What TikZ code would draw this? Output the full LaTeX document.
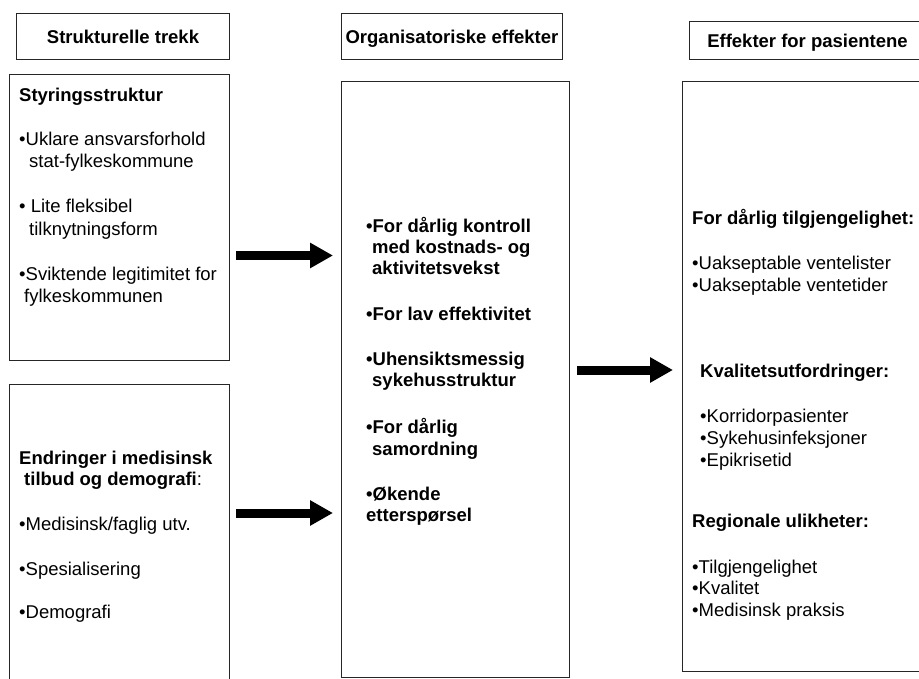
\documentclass[tikz,border=0pt]{standalone}
\usepackage{fontspec}
\setmainfont{Liberation Sans}
\usetikzlibrary{arrows.meta}

\tikzset{
  frame/.style={draw=black!85, line width=1pt, rectangle, inner sep=0pt, anchor=north west},
  head/.style={frame, text height=13.3pt, text depth=0pt, font=\bfseries\fontsize{18.5}{22}\selectfont},
  txt/.style={anchor=base west, inner sep=0pt, font=\fontsize{18.5}{22}\selectfont},
  btxt/.style={txt, font=\bfseries\fontsize{18.5}{22}\selectfont},
  fatarrow/.style={line width=9pt, -{Triangle[length=23pt, width=24pt]}}
}

\begin{document}
\begin{tikzpicture}[x=1pt, y=-1pt]
\useasboundingbox (0,0) rectangle (919,679);
\clip (0,0) rectangle (919,679);

% column headings
\node[head, minimum width=213pt, minimum height=46pt] (h1) at (16,13) {Strukturelle trekk};
\node[head, minimum width=221pt, minimum height=46pt] (h2) at (341,13) {Organisatoriske effekter};
\node[head, minimum width=236pt, minimum height=38pt] (h3) at (689,21) {Effekter for pasientene};

% content frames
\node[frame, minimum width=220pt, minimum height=286pt] (styr) at (9,74) {};
\node[frame, minimum width=220pt, minimum height=320pt] (endr) at (9,384) {};
\node[frame, minimum width=228pt, minimum height=596pt] (org) at (341,81) {};
\node[frame, minimum width=260pt, minimum height=590pt] (pas) at (682,81) {};

% governance structure
\node[btxt] (t1) at (19,102) {Styringsstruktur};
\node[txt] (t2) at (19,146) {•Uklare ansvarsforhold};
\node[txt] (t3) at (29,168) {stat-fylkeskommune};
\node[txt] (t4) at (19,213) {• Lite fleksibel};
\node[txt] (t5) at (29,236) {tilknytningsform};
\node[txt] (t6) at (19,281) {•Sviktende legitimitet for};
\node[txt] (t7) at (24,303) {fylkeskommunen};

% medical and demographic change
\node[btxt] (b1) at (19,464) {Endringer i medisinsk};
\node[txt] (b2) at (24,485) {\textbf{tilbud og demografi}:};
\node[txt] (b3) at (19,530) {•Medisinsk/faglig utv.};
\node[txt] (b4) at (19,575) {•Spesialisering};
\node[txt] (b5) at (19,618) {•Demografi};

% organisational effects
\node[btxt] (m1) at (366,233) {•For dårlig kontroll};
\node[btxt] (m2) at (372,254) {med kostnads- og};
\node[btxt] (m3) at (372,275) {aktivitetsvekst};
\node[btxt] (m4) at (366,320) {•For lav effektivitet};
\node[btxt] (m5) at (366,365) {•Uhensiktsmessig};
\node[btxt] (m6) at (372,386) {sykehusstruktur};
\node[btxt] (m7) at (366,433) {•For dårlig};
\node[btxt] (m8) at (372,455) {samordning};
\node[btxt] (m9) at (366,500) {•Økende};
\node[btxt] (m10) at (366,521) {etterspørsel};

% effects for patients
\node[btxt] (r1) at (692,225) {For dårlig tilgjengelighet:};
\node[txt] (r2) at (692,270) {•Uakseptable ventelister};
\node[txt] (r3) at (692,291) {•Uakseptable ventetider};
\node[btxt] (r4) at (700,377) {Kvalitetsutfordringer:};
\node[txt] (r5) at (700,422) {•Korridorpasienter};
\node[txt] (r6) at (700,444) {•Sykehusinfeksjoner};
\node[txt] (r7) at (700,466) {•Epikrisetid};
\node[btxt] (r8) at (692,527) {Regionale ulikheter:};
\node[txt] (r9) at (692,573) {•Tilgjengelighet};
\node[txt] (r10) at (692,594) {•Kvalitet};
\node[txt] (r11) at (692,616) {•Medisinsk praksis};

% arrows between the columns
\coordinate (a1s) at (236,255.5);
\coordinate (a1e) at (333,255.5);
\coordinate (a2s) at (236,513);
\coordinate (a2e) at (333,513);
\coordinate (a3s) at (577,370);
\coordinate (a3e) at (673,370);
\draw[fatarrow] (a1s) -- (a1e);
\draw[fatarrow] (a2s) -- (a2e);
\draw[fatarrow] (a3s) -- (a3e);
\end{tikzpicture}
\end{document}
